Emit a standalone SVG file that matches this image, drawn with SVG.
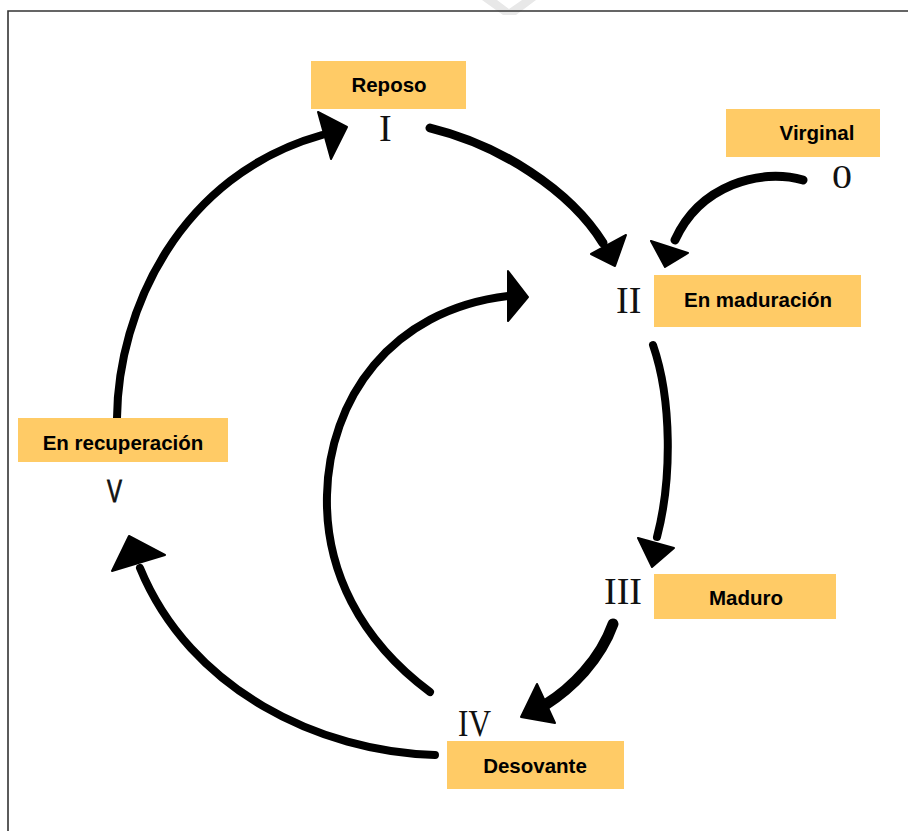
<svg xmlns="http://www.w3.org/2000/svg" width="908" height="831" viewBox="0 0 908 831">
<style>
.box{fill:#FFCB66}
.lbl{font-family:"Liberation Sans",Arial,sans-serif;font-weight:bold;font-size:20.5px;fill:#000;text-anchor:middle}
.num{font-family:"Liberation Serif","Times New Roman",serif;font-size:38px;fill:#111}
.arc{fill:none;stroke:#000;stroke-width:8;stroke-linecap:round}
.head{fill:#000;stroke:#000;stroke-width:2;stroke-linejoin:round}
</style>
<rect width="908" height="831" fill="#fff"/>
<polygon points="482,0 497,0 509,9 522,0 536,0 516,15 503,15" fill="#e8e8e8"/>
<path d="M8,831 V11 H908" fill="none" stroke="#333" stroke-width="1.6"/>

<g id="connectors">
  <path class="arc" d="M117,418 C118,310 180,175 322,135"/>
  <polygon class="head" points="318,112 347,127 331,159"/>
  <path class="arc" d="M430,128 C500,145 570,190 603,243" style="stroke-width:9"/>
  <polygon class="head" points="591,254 626,235 615,266"/>
  <path class="arc" d="M803,180 C760,168 700,185 675,240" style="stroke-width:9"/>
  <polygon class="head" points="651,241 688,253 665,267"/>
  <path class="arc" d="M653,345 C672,400 672,480 657,537"/>
  <polygon class="head" points="638,538 674,548 652,567"/>
  <path class="arc" d="M613,624 C600,660 572,688 545,705" style="stroke-width:11"/>
  <polygon class="head" points="537,684 555,723 521,717"/>
  <path class="arc" d="M435,755 C320,752 190,690 140,568"/>
  <polygon class="head" points="112,571 129,536 165,555"/>
  <path class="arc" d="M430,692 C360,640 325,570 327,495 C329,400 390,310 508,296"/>
  <polygon class="head" points="508,271 528,297 508,321"/>
</g>

<g id="n1"><rect class="box" x="311" y="61" width="155" height="48"/><text class="lbl" x="389" y="92">Reposo</text><text class="num" x="379" y="141">I</text></g>
<g id="n0"><rect class="box" x="726" y="109" width="154" height="48"/><text class="lbl" x="817" y="140">Virginal</text><text class="num" x="832" y="188" style="font-size:34px" textLength="20" lengthAdjust="spacingAndGlyphs">0</text></g>
<g id="n2"><rect class="box" x="654" y="275" width="207" height="52"/><text class="lbl" x="758" y="307">En maduración</text><text class="num" x="616" y="313">II</text></g>
<g id="n3"><rect class="box" x="654" y="574" width="182" height="45"/><text class="lbl" x="746" y="605">Maduro</text><text class="num" x="604" y="604">III</text></g>
<g id="n4"><rect class="box" x="447" y="741" width="177" height="48"/><text class="lbl" x="535" y="773">Desovante</text><text class="num" x="458" y="736" textLength="33" lengthAdjust="spacingAndGlyphs">IV</text></g>
<g id="n5"><rect class="box" x="18" y="418" width="210" height="44"/><text class="lbl" x="123" y="450">En recuperación</text><text x="107" y="502" style="font-family:'Liberation Sans',Arial,sans-serif;font-size:32px;fill:#111;stroke:#111;stroke-width:0.8" textLength="15" lengthAdjust="spacingAndGlyphs">V</text></g>
</svg>
